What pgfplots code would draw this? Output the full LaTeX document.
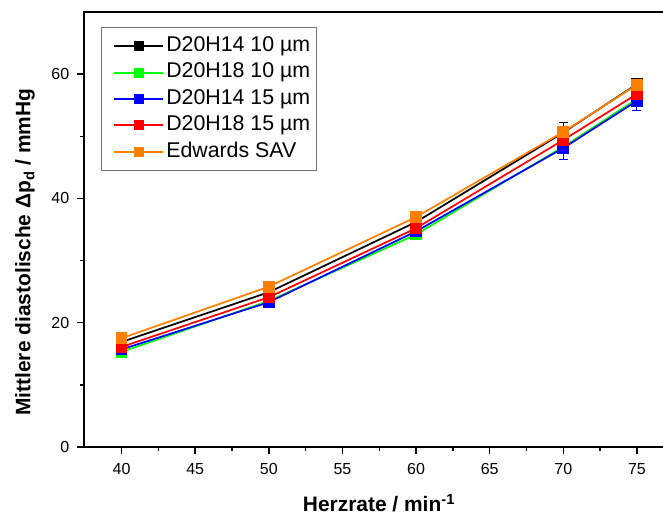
\documentclass[border=0pt]{standalone}
\usepackage{fontspec}
\setmainfont{Liberation Sans}
\usepackage{pgfplots}
\pgfplotsset{compat=1.18}
\definecolor{cOrange}{RGB}{255,128,0}
\definecolor{cGreen}{RGB}{0,255,0}
\definecolor{cBlue}{RGB}{0,0,255}
\definecolor{cRed}{RGB}{255,0,0}
\begin{document}
\begin{tikzpicture}
\begin{axis}[
  name=ax,
  scale only axis, width=439pt, height=326.25pt,
  xmin=37.45, xmax=77.2, ymin=0, ymax=70,
  axis line style={black, line width=1.1pt},
  xtick pos=bottom, ytick pos=left,
  xtick={40,45,...,75}, ytick={0,20,40,60},
  minor x tick num=1, minor y tick num=1,
  tick align=outside, major tick length=5pt, minor tick length=3pt,
  tick style={black, line width=1.1pt},
  /pgf/number format/assume math mode=true,
  ticklabel style={font=\fontsize{12}{14}\selectfont},
  xticklabel style={yshift=-3.5pt},
  yticklabel style={xshift=-2.5pt},
  xlabel={\bfseries Herzrate / min\textsuperscript{-1}},
  ylabel={\bfseries Mittlere diastolische Δp\textsubscript{d} / mmHg},
  label style={font=\fontsize{15.7}{18}\selectfont},
  xlabel style={at={(axis description cs:0.504,-0.129)}, anchor=center},
  ylabel style={at={(axis description cs:-0.1008,0.448)}, rotate=0, anchor=center},
  every axis plot/.append style={line width=1.3pt, mark=square*, mark size=3.75pt,
    error bars/y dir=both, error bars/y explicit,
    error bars/error bar style={line width=0.8pt},
    error bars/error mark options={rotate=90, mark size=3.4pt, line width=0.8pt}},
  legend style={at={(0.029,0.9655)}, anchor=north west, draw=black!55, line width=0.8pt,
    font=\fontsize{16}{19}\selectfont, row sep=1.8pt, inner xsep=3pt, inner ysep=5pt,
    nodes={inner sep=1.5pt, text height=11.5pt, text depth=3.5pt}},
  legend image code/.code={\path (0cm,0cm); \draw[mark repeat=2, mark phase=2, mark size=3pt, #1, line width=1.5pt] plot coordinates {(0.2cm,0cm) (0.85cm,0cm) (1.5cm,0cm)};},
  legend cell align=left,
]
\addplot[black, line width=1.3pt, mark options={fill=black}] coordinates {
 (40,16.9) +- (0,0.5) (50,24.9) +- (0,0.6) (60,36.2) +- (0,0.5) (70,50.6) +- (0,1.6) (75,58.4) +- (0,0.8)};
\addlegendentry{D20H14 10 µm}
\addplot[cGreen, line width=1.3pt, mark options={fill=cGreen}] coordinates {
 (40,15.3) +- (0,0.5) (50,23.5) +- (0,0.6) (60,34.2) +- (0,0.6) (70,48.3) +- (0,1.0) (75,56.0) +- (0,1.2)};
\addlegendentry{D20H18 10 µm}
\addplot[cBlue, line width=1.3pt, mark options={fill=cBlue}] coordinates {
 (40,15.7) +- (0,0.5) (50,23.3) +- (0,0.9) (60,34.7) +- (0,0.6) (70,48.1) +- (0,1.8) (75,55.7) +- (0,1.5)};
\addlegendentry{D20H14 15 µm}
\addplot[cRed, line width=1.3pt, mark options={fill=cRed}] coordinates {
 (40,16.1) +- (0,0.4) (50,24.1) +- (0,0.5) (60,35.2) +- (0,0.5) (70,49.4) +- (0,0.6) (75,56.8) +- (0,0.6)};
\addlegendentry{D20H18 15 µm}
\addplot[cOrange, line width=1.3pt, mark options={fill=cOrange}] coordinates {
 (40,17.5) +- (0,0.3) (50,25.8) +- (0,0.3) (60,37.0) +- (0,0.3) (70,50.7) +- (0,0.3) (75,58.3) +- (0,0.3)};
\addlegendentry{Edwards SAV}
\end{axis}
\pgfresetboundingbox
\path ([shift={(-63pt,-53.25pt)}]ax.south west) rectangle ([shift={(434.25pt,9pt)}]ax.north west);
\end{tikzpicture}
\end{document}
